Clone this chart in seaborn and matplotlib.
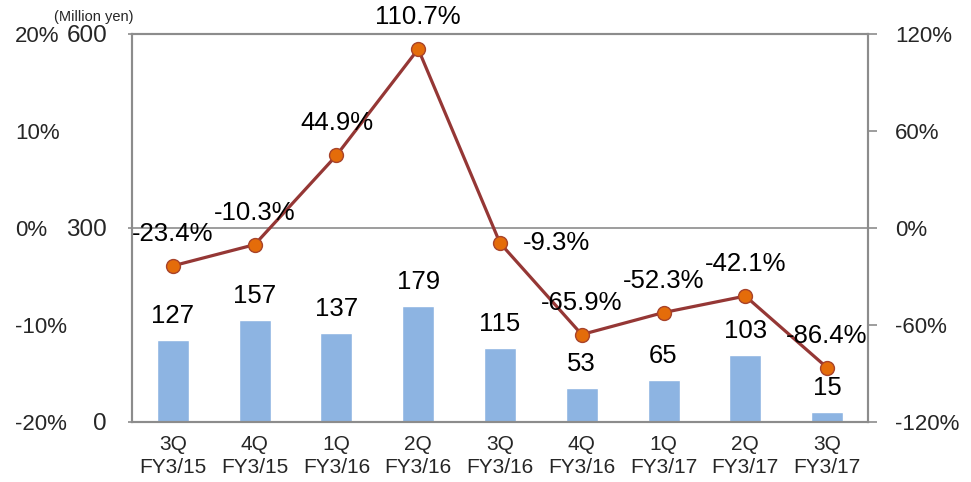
import numpy as np
import pandas as pd
import matplotlib
matplotlib.use("Agg")
import matplotlib.pyplot as plt
import matplotlib.transforms as mtransforms
import seaborn as sns

# Quarterly sales (million yen) and year-on-year growth (%)
quarters = ["3Q\nFY3/15", "4Q\nFY3/15", "1Q\nFY3/16", "2Q\nFY3/16", "3Q\nFY3/16",
            "4Q\nFY3/16", "1Q\nFY3/17", "2Q\nFY3/17", "3Q\nFY3/17"]
sales = [127, 157, 137, 179, 115, 53, 65, 103, 15]
growth = [-23.4, -10.3, 44.9, 110.7, -9.3, -65.9, -52.3, -42.1, -86.4]

left_ticks = [0, 300, 600]
right_ticks = [-120, -60, 0, 60, 120]
outer_labels = ["20%", "10%", "0%", "-10%", "-20%"]
outer_levels = [600, 450, 300, 150, 0]

sns.set_theme(style="white")
plt.rcParams["font.family"] = ["Liberation Sans", "DejaVu Sans"]

BAR = "#8DB4E2"
LINE = "#953735"
MARK = "#E46C0A"
FRAME = "#8C8C8C"

df = pd.DataFrame({"quarter": quarters, "sales": sales, "growth": growth})

fig = plt.figure(figsize=(9.71, 4.82), dpi=100)
ax = fig.add_axes([132 / 971, 1 - 422 / 482, (868 - 132) / 971, (422 - 34) / 482])

sns.barplot(data=df, x="quarter", y="sales", color=BAR, width=0.39,
            saturation=1, ax=ax, zorder=2)
ax.set_xlim(-0.5, len(quarters) - 0.5)
ax.set_ylim(0, 600)
ax.set_yticks(left_ticks)
ax.set_yticklabels([str(t) for t in left_ticks], fontsize=17.5)
ax.set_xlabel("")
ax.set_ylabel("")
ax.tick_params(axis="x", length=0, pad=9, labelsize=15)
for lab in ax.get_xticklabels():
    lab.set_family(["Liberation Sans Narrow", "Liberation Sans"])
    lab.set_linespacing(1.3)
ax.set_xticks(np.arange(len(quarters) + 1) - 0.5, minor=True)
ax.tick_params(axis="x", which="minor", direction="in", length=5, width=1.2, color=FRAME)
ax.tick_params(axis="y", length=3, width=1.2, color=FRAME, pad=15)
ax.axhline(300, color=FRAME, lw=1.2, zorder=1)
for s in ax.spines.values():
    s.set_color(FRAME)
    s.set_linewidth(1.5)

# Value labels above bars
for i, v in enumerate(sales):
    ax.annotate(str(v), (i, v), xytext=(0, 12), textcoords="offset pixels",
                ha="center", va="bottom", fontsize=18.5, color="black")

ax.text(133 / 971, 1 - 17 / 482, "(Million yen)", transform=fig.transFigure,
        ha="right", va="center", fontsize=10.5)

# Growth rate on the secondary axis
ax2 = ax.twinx()
pos = np.arange(len(quarters))
sns.lineplot(x=pos, y=growth, ax=ax2, color=LINE, lw=2.3, marker="o",
             markersize=10, markerfacecolor=MARK, markeredgecolor="#A8432A",
             markeredgewidth=1, zorder=5)
ax2.set_ylim(-120, 120)
ax2.set_yticks(right_ticks)
ax2.set_yticklabels([f"{t}%" for t in right_ticks], fontsize=16)
ax2.tick_params(axis="y", length=6.5, width=1.2, color=FRAME, pad=13)
ax2.set_ylabel("")
for s in ax2.spines.values():
    s.set_color(FRAME)
    s.set_linewidth(1.5)

for i, g in enumerate(growth):
    off = (56, 0) if i == 4 else (0, 32)
    ax2.annotate(f"{g:.1f}%", (i, g), xytext=off, textcoords="offset pixels",
                 ha="center", va="center", fontsize=18.5, color="black", zorder=6)

# Outer percentage scale on the far left
tr = mtransforms.blended_transform_factory(fig.transFigure, ax.transData)
for lab, lvl in zip(outer_labels, outer_levels):
    ax.text(15 / 971, lvl, lab, transform=tr, ha="left", va="center_baseline",
            fontsize=16, clip_on=False)

fig.savefig("out.png", dpi=100)
